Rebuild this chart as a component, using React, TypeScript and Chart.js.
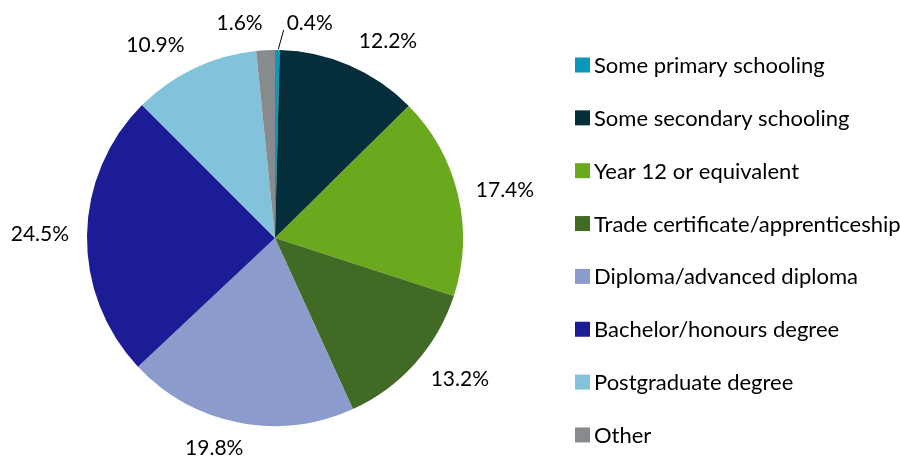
import React, { useEffect, useRef } from 'react';
import { Chart, registerables } from 'chart.js';

Chart.register(...registerables);

const categories = [
  'Some primary schooling',
  'Some secondary schooling',
  'Year 12 or equivalent',
  'Trade certificate/apprenticeship',
  'Diploma/advanced diploma',
  'Bachelor/honours degree',
  'Postgraduate degree',
  'Other',
];
const shares = [0.4, 12.2, 17.4, 13.2, 19.8, 24.5, 10.9, 1.6];
const sliceColors = [
  '#0A98BA',
  '#042E3A',
  '#6AA81E',
  '#416A24',
  '#8B9BCC',
  '#1C1C96',
  '#82C2DB',
  '#888B8E',
];

const FONT = 'Lato, "Open Sans", sans-serif';
const TEXT_COLOR = '#000';

const outsideLabels = {
  id: 'outsideLabels',
  afterDatasetsDraw(chart: any) {
    const meta = chart.getDatasetMeta(0);
    const ds = chart.data.datasets[0];
    const ctx = chart.ctx as CanvasRenderingContext2D;
    ctx.save();
    ctx.font = `21px ${FONT}`;
    const h = 16;
    const items = meta.data.map((arc: any, i: number) => {
      const p = arc.getProps(['x', 'y', 'startAngle', 'endAngle', 'outerRadius'], true);
      const mid = (p.startAngle + p.endAngle) / 2;
      const dx = Math.cos(mid);
      const dy = Math.sin(mid);
      const value = ds.data[i] as number;
      const text = value.toFixed(1) + '%';
      const w = ctx.measureText(text).width;
      const R = p.outerRadius + 24 - 6 * dx * dx;
      const px = p.x + dx * R;
      const py = p.y + dy * R + dy * 3;
      const frac = Math.min(1, Math.max(0, 0.5 - dx * 1.75));
      return {
        text,
        w,
        left: px - frac * w,
        cy: py,
        value,
        ox: p.x + dx * p.outerRadius,
        oy: p.y + dy * p.outerRadius,
        leader: false,
      };
    });
    // resolve overlaps horizontally
    const pad = 24;
    for (let a = 0; a < items.length; a++) {
      for (let b = a + 1; b < items.length; b++) {
        const A = items[a];
        const B = items[b];
        if (Math.abs(A.cy - B.cy) >= h) continue;
        const L = A.left + A.w / 2 <= B.left + B.w / 2 ? A : B;
        const Rt = L === A ? B : A;
        const overlap = L.left + L.w - Rt.left;
        if (overlap + pad <= 0) continue;
        const total = overlap + pad;
        const small = A.value < B.value ? A : B;
        const sL = small === L ? 0.6 : 0.4;
        L.left -= total * sL;
        Rt.left += total * (1 - sL);
        small.leader = true;
      }
    }
    ctx.fillStyle = TEXT_COLOR;
    ctx.textAlign = 'left';
    ctx.textBaseline = 'middle';
    items.forEach((it: any) => {
      ctx.fillText(it.text, it.left, it.cy);
      if (it.leader) {
        ctx.beginPath();
        ctx.strokeStyle = '#000';
        ctx.lineWidth = 1;
        ctx.moveTo(it.ox + 1, it.oy - 1);
        ctx.lineTo(it.left - 3, it.cy + 7);
        ctx.stroke();
      }
    });
    ctx.restore();
  },
};

const sideLegend = {
  id: 'sideLegend',
  afterDraw(chart: any) {
    const ctx = chart.ctx as CanvasRenderingContext2D;
    const labels = chart.data.labels as string[];
    const colors = chart.data.datasets[0].backgroundColor as string[];
    const x0 = 575;
    const y0 = 65;
    const step = 52.85;
    const box = 15;
    ctx.save();
    ctx.font = `22px ${FONT}`;
    ctx.textAlign = 'left';
    ctx.textBaseline = 'middle';
    labels.forEach((lab, i) => {
      const y = y0 + i * step;
      ctx.fillStyle = colors[i];
      ctx.fillRect(x0, y - box / 2, box, box);
      ctx.fillStyle = TEXT_COLOR;
      ctx.fillText(lab, x0 + box + 4, y + 1);
    });
    ctx.restore();
  },
};

export default function App() {
  const ref = useRef<HTMLCanvasElement | null>(null);
  useEffect(() => {
    if (!ref.current) return;
    const chart = new Chart(ref.current, {
      type: 'pie',
      data: {
        labels: categories,
        datasets: [
          {
            data: shares,
            backgroundColor: sliceColors,
            borderWidth: 0,
          },
        ],
      },
      options: {
        responsive: false,
        animation: false,
        devicePixelRatio: 1,
        layout: { padding: { left: 87, right: 437, top: 50, bottom: 32 } },
        plugins: {
          legend: { display: false },
          tooltip: { enabled: false },
        },
      },
      plugins: [outsideLabels, sideLegend],
    });
    return () => chart.destroy();
  }, []);
  return (
    <div style={{ position: 'fixed', left: 0, top: 0, width: 900, height: 458, background: '#fff' }}>
      <canvas ref={ref} width={900} height={458} />
    </div>
  );
}
